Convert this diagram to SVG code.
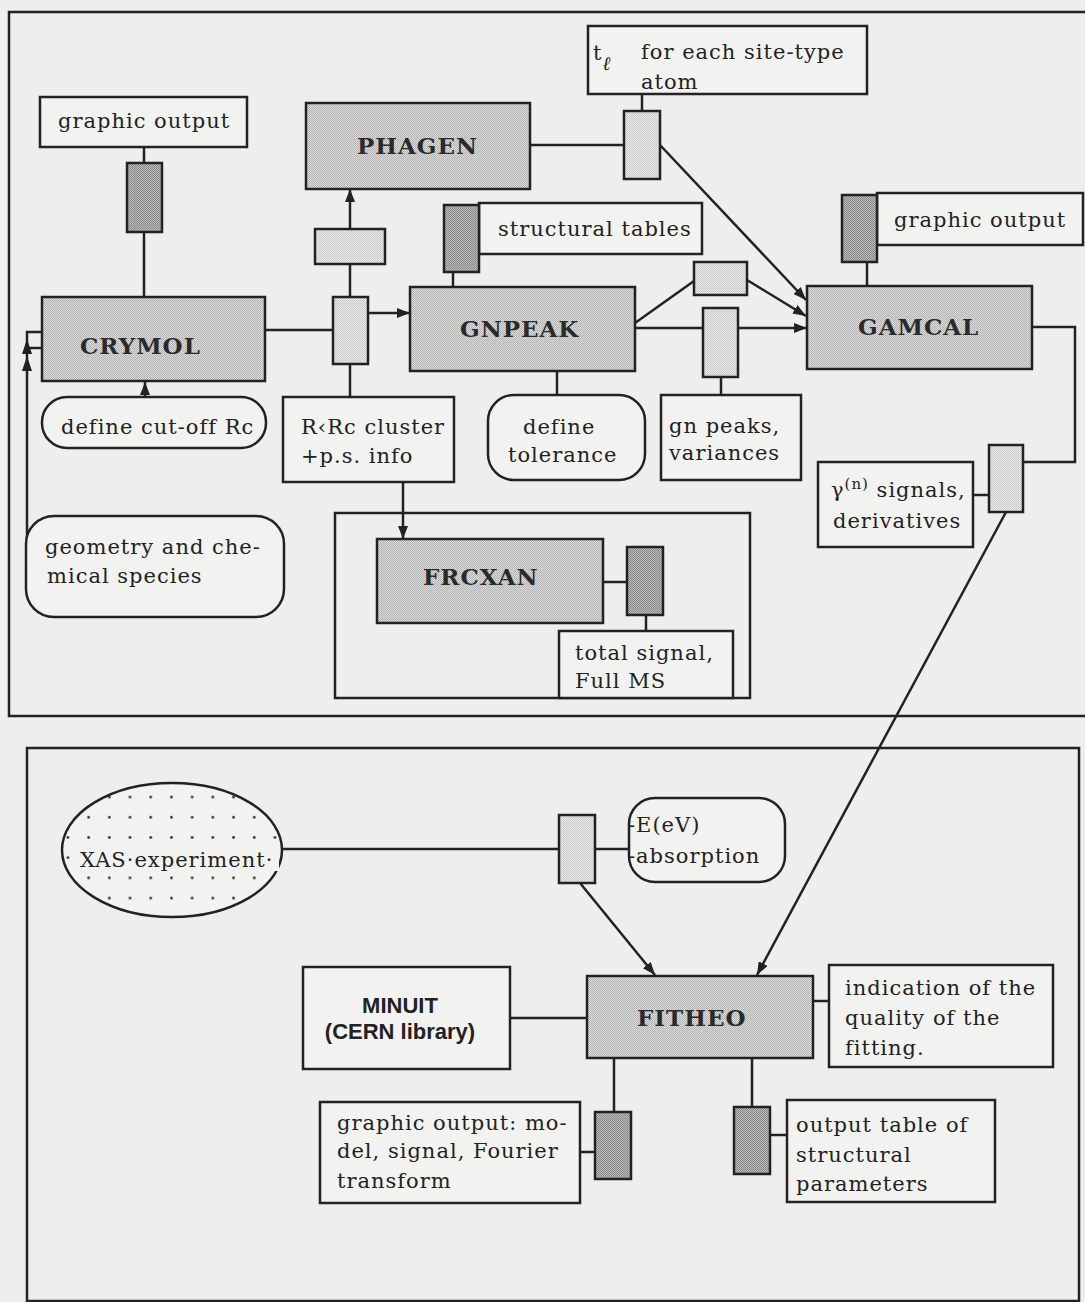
<svg xmlns="http://www.w3.org/2000/svg" width="1085" height="1302" viewBox="0 0 1085 1302">
<style>
.bg{fill:#eeeeec}
.frame{fill:none;stroke:#222;stroke-width:2.5}
.box{fill:#f2f2f0;stroke:#222;stroke-width:2.5}
.mod{fill:url(#pMod);stroke:#222;stroke-width:2.5}
.lt{fill:url(#pLt);stroke:#222;stroke-width:2.5}
.dk{fill:url(#pDk);stroke:#222;stroke-width:2.5}
.ln{fill:none;stroke:#222;stroke-width:2.5}
.ar{fill:none;stroke:#222;stroke-width:2.5;marker-end:url(#ah)}
.t{font-family:"DejaVu Serif","Liberation Serif",serif;font-size:21px;fill:#222;letter-spacing:1px}
.h{font-family:"DejaVu Serif","Liberation Serif",serif;font-size:23px;font-weight:bold;fill:#2a2a2a;letter-spacing:1px}
.s{font-family:"Liberation Sans",Arial,sans-serif;font-size:22px;font-weight:bold;fill:#222;text-anchor:middle}
</style>
<defs>
<pattern id="pMod" width="2" height="2" patternUnits="userSpaceOnUse"><rect width="2" height="2" fill="#dedede"/><rect width="1" height="1" fill="#b0b0b0"/><rect x="1" y="1" width="1" height="1" fill="#b0b0b0"/></pattern>
<pattern id="pLt" width="2" height="2" patternUnits="userSpaceOnUse"><rect width="2" height="2" fill="#ececea"/><rect width="1" height="1" fill="#c8c8c8"/><rect x="1" y="1" width="1" height="1" fill="#c8c8c8"/></pattern>
<pattern id="pDk" width="2" height="2" patternUnits="userSpaceOnUse"><rect width="2" height="2" fill="#bcbcbc"/><rect width="1" height="1" fill="#888888"/><rect x="1" y="1" width="1" height="1" fill="#888888"/></pattern>
<pattern id="pDot" x="78.3" y="787" width="20.7" height="20.2" patternUnits="userSpaceOnUse"><rect width="20.7" height="20.2" fill="#f2f2f0"/><circle cx="10.35" cy="10.1" r="1.4" fill="#333"/></pattern>
<marker id="ah" markerWidth="13" markerHeight="10" refX="13" refY="5" orient="auto" markerUnits="userSpaceOnUse"><path d="M0,0 L13,5 L0,10 z" fill="#222"/></marker>
</defs>
<rect class="bg" x="0" y="0" width="1085" height="1302"/>

<g id="frames">
<rect class="frame" x="9" y="12" width="1090" height="704"/>
<rect class="frame" x="335" y="513" width="415" height="185"/>
<rect class="frame" x="27" y="748" width="1052" height="553"/>
</g>

<g id="connectors">
<line class="ln" x1="144" y1="147" x2="144" y2="163"/>
<line class="ln" x1="144" y1="232" x2="144" y2="297"/>
<line class="ar" x1="145" y1="397" x2="145" y2="382"/>
<path class="ln" d="M27,540 V332 H42"/>
<line class="ln" x1="27" y1="348" x2="42" y2="348"/>
<polygon points="27,339 22,354 32,354" fill="#222"/>
<polygon points="27,356 22,371 32,371" fill="#222"/>
<line class="ln" x1="265" y1="330" x2="333" y2="330"/>
<line class="ar" x1="368" y1="313" x2="410" y2="313"/>
<line class="ln" x1="350" y1="297" x2="350" y2="264"/>
<line class="ar" x1="350" y1="229" x2="350" y2="189"/>
<line class="ln" x1="350" y1="364" x2="350" y2="397"/>
<line class="ar" x1="403" y1="482" x2="403" y2="539"/>
<line class="ln" x1="603" y1="582" x2="627" y2="582"/>
<line class="ln" x1="646" y1="615" x2="646" y2="631"/>
<line class="ln" x1="453" y1="272" x2="453" y2="287"/>
<line class="ln" x1="557" y1="371" x2="557" y2="395"/>
<line class="ln" x1="635" y1="323" x2="694" y2="281"/>
<line class="ln" x1="635" y1="328" x2="703" y2="328"/>
<line class="ar" x1="738" y1="328" x2="807" y2="328"/>
<line class="ar" x1="747" y1="280" x2="806" y2="316"/>
<line class="ln" x1="530" y1="145" x2="624" y2="145"/>
<line class="ln" x1="642" y1="94" x2="642" y2="111"/>
<line class="ar" x1="660" y1="145" x2="806" y2="300"/>
<line class="ln" x1="721" y1="377" x2="721" y2="395"/>
<line class="ln" x1="867" y1="262" x2="867" y2="286"/>
<path class="ln" d="M1032,327 H1075 V462 H1023"/>
<line class="ln" x1="973" y1="495" x2="989" y2="495"/>
<line class="ar" x1="1006" y1="512" x2="757" y2="975"/>
<line class="ln" x1="282" y1="849" x2="559" y2="849"/>
<line class="ln" x1="595" y1="849" x2="629" y2="849"/>
<line class="ar" x1="580" y1="883" x2="655" y2="975"/>
<line class="ln" x1="510" y1="1018" x2="587" y2="1018"/>
<line class="ln" x1="813" y1="1001" x2="829" y2="1001"/>
<line class="ln" x1="614" y1="1058" x2="614" y2="1112"/>
<line class="ln" x1="595" y1="1152" x2="580" y2="1152"/>
<line class="ln" x1="752" y1="1058" x2="752" y2="1107"/>
<line class="ln" x1="770" y1="1135" x2="787" y2="1135"/>
</g>

<g id="graphic-output-1"><rect class="box" x="40" y="97" width="207" height="50"/><text class="t" x="58" y="128">graphic output</text></g>
<g id="dark-1"><rect class="dk" x="127" y="163" width="35" height="69"/></g>
<g id="crymol"><rect class="mod" x="42" y="297" width="223" height="84"/><text class="h" x="80" y="354">CRYMOL</text></g>
<g id="cutoff"><rect class="box" x="42" y="397" width="224" height="51" rx="25"/><text class="t" x="61" y="434">define cut-off Rc</text></g>
<g id="geometry"><rect class="box" x="26" y="516" width="258" height="101" rx="28"/><text class="t" x="45" y="554">geometry and che-</text><text class="t" x="47" y="583">mical species</text></g>
<g id="light-1"><rect class="lt" x="333" y="297" width="35" height="67"/></g>
<g id="light-2"><rect class="lt" x="315" y="229" width="70" height="35"/></g>
<g id="phagen"><rect class="mod" x="306" y="103" width="224" height="86"/><text class="h" x="357" y="154">PHAGEN</text></g>
<g id="rrc"><rect class="box" x="283" y="397" width="171" height="85"/><text class="t" x="301" y="434">R‹Rc cluster</text><text class="t" x="301" y="463">+p.s. info</text></g>
<g id="frcxan"><rect class="mod" x="377" y="539" width="226" height="84"/><text class="h" x="423" y="585">FRCXAN</text></g>
<g id="dark-frc"><rect class="dk" x="627" y="547" width="36" height="68"/></g>
<g id="total-signal"><rect class="box" x="559" y="631" width="174" height="67"/><text class="t" x="575" y="660">total signal,</text><text class="t" x="575" y="688">Full MS</text></g>
<g id="struct-tables"><rect class="box" x="479" y="203" width="223" height="51"/><rect class="dk" x="444" y="205" width="35" height="67"/><text class="t" x="498" y="236">structural tables</text></g>
<g id="gnpeak"><rect class="mod" x="410" y="287" width="225" height="84"/><text class="h" x="460" y="337">GNPEAK</text></g>
<g id="tolerance"><rect class="box" x="488" y="395" width="157" height="85" rx="26"/><text class="t" x="523" y="434">define</text><text class="t" x="508" y="462">tolerance</text></g>
<g id="light-3"><rect class="lt" x="694" y="262" width="53" height="33"/></g>
<g id="light-4"><rect class="lt" x="703" y="308" width="35" height="69"/></g>
<g id="gn-peaks"><rect class="box" x="661" y="395" width="140" height="85"/><text class="t" x="669" y="433">gn peaks,</text><text class="t" x="669" y="460">variances</text></g>
<g id="tl"><rect class="box" x="588" y="26" width="279" height="68"/><text class="t" x="593" y="60">t<tspan font-style="italic" font-size="19" dy="10">ℓ</tspan></text><text class="t" x="641" y="59">for each site-type</text><text class="t" x="641" y="89">atom</text></g>
<g id="light-5"><rect class="lt" x="624" y="111" width="36" height="68"/></g>
<g id="gamcal"><rect class="mod" x="807" y="286" width="225" height="83"/><text class="h" x="858" y="335">GAMCAL</text></g>
<g id="graphic-output-2"><rect class="box" x="877" y="193" width="206" height="52"/><rect class="dk" x="842" y="195" width="35" height="67"/><text class="t" x="894" y="227">graphic output</text></g>
<g id="light-6"><rect class="lt" x="989" y="445" width="34" height="67"/></g>
<g id="gamma"><rect class="box" x="818" y="462" width="155" height="85"/><text class="t" x="831" y="497">γ<tspan font-size="15" dy="-8">(n)</tspan><tspan dy="8"> signals,</tspan></text><text class="t" x="833" y="528">derivatives</text></g>

<g id="xas">
<ellipse cx="172" cy="850" rx="110" ry="67" fill="url(#pDot)" stroke="#222" stroke-width="2.5"/>
<rect x="73" y="847" width="206" height="24" fill="#f2f2f0"/>
<text class="t" x="80" y="867">XAS·experiment·</text>
</g>
<g id="light-7"><rect class="lt" x="559" y="815" width="36" height="68"/></g>
<g id="energy"><rect class="box" x="629" y="798" width="156" height="84" rx="26"/><text class="t" x="628" y="832">-E(eV)</text><text class="t" x="628" y="863">-absorption</text></g>
<g id="fitheo"><rect class="mod" x="587" y="976" width="226" height="82"/><text class="h" x="637" y="1026">FITHEO</text></g>
<g id="minuit"><rect class="box" x="303" y="967" width="207" height="102"/><text class="s" x="400" y="1013">MINUIT</text><text class="s" x="400" y="1039">(CERN library)</text></g>
<g id="indication"><rect class="box" x="829" y="965" width="224" height="102"/><text class="t" x="845" y="995">indication of the</text><text class="t" x="845" y="1025">quality of the</text><text class="t" x="845" y="1055">fitting.</text></g>
<g id="dark-fit-1"><rect class="dk" x="595" y="1112" width="36" height="67"/></g>
<g id="graphic-output-3"><rect class="box" x="320" y="1102" width="260" height="101"/><text class="t" x="337" y="1130">graphic output: mo-</text><text class="t" x="337" y="1158">del, signal, Fourier</text><text class="t" x="337" y="1188">transform</text></g>
<g id="dark-fit-2"><rect class="dk" x="734" y="1107" width="36" height="67"/></g>
<g id="output-table"><rect class="box" x="787" y="1100" width="208" height="102"/><text class="t" x="796" y="1132">output table of</text><text class="t" x="796" y="1162">structural</text><text class="t" x="796" y="1191">parameters</text></g>
</svg>
